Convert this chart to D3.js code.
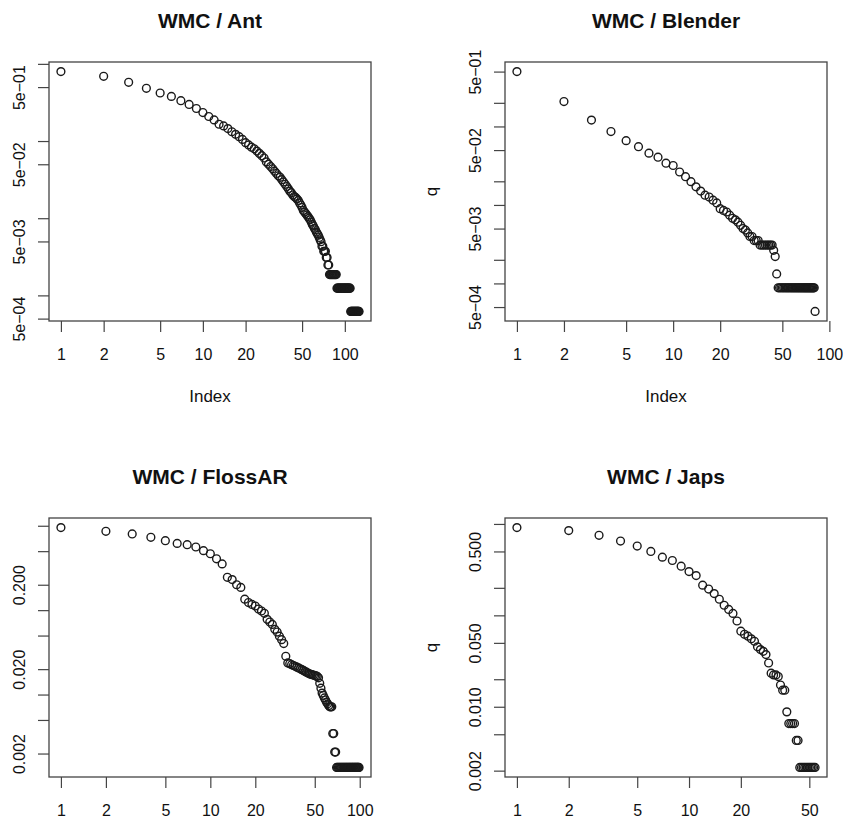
<!DOCTYPE html>
<html>
<head>
<meta charset="utf-8">
<script src="https://cdn.jsdelivr.net/npm/d3@7/dist/d3.min.js"></script>
<style>
  body { margin: 0; background: #fff; }
  svg text { font-family: "Liberation Sans", Arial, Helvetica, sans-serif; fill: #111; }
</style>
</head>
<body>
<div id="container"></div>
<script>
// q values by Index (1..N)
const antQ = [0.794, 0.690, 0.577, 0.482, 0.419, 0.379, 0.333, 0.298, 0.264, 0.234,
    0.208, 0.188, 0.165, 0.157, 0.145, 0.132, 0.122, 0.114, 0.105, 0.0953,
    0.0891, 0.0832, 0.0794, 0.0741, 0.0692, 0.0646, 0.0603, 0.0537, 0.0501, 0.0468,
    0.0437, 0.0407, 0.0380, 0.0355, 0.0339, 0.0316, 0.0295, 0.0275, 0.0257, 0.0240,
    0.0224, 0.0214, 0.0200, 0.0191, 0.0186, 0.0178, 0.0170, 0.0158, 0.0148, 0.0138,
    0.0126, 0.0120, 0.0115, 0.0110, 0.0105, 0.0100, 0.00955, 0.00891, 0.00832, 0.00794,
    0.00741, 0.00708, 0.00661, 0.00631, 0.00603, 0.00562, 0.00525, 0.00496, 0.00434, 0.00434,
    0.00372, 0.00372, 0.00372, 0.00310, 0.00310, 0.00248, 0.00248,
    0.00186, 0.00186, 0.00186, 0.00186, 0.00186, 0.00186, 0.00186, 0.00186, 0.00186, 0.00186,
    0.00124, 0.00124, 0.00124, 0.00124, 0.00124, 0.00124, 0.00124, 0.00124, 0.00124, 0.00124, 0.00124,
    0.00124, 0.00124, 0.00124, 0.00124, 0.00124, 0.00124, 0.00124, 0.00124, 0.00124, 0.00124, 0.00124,
    0.00062, 0.00062, 0.00062, 0.00062, 0.00062, 0.00062, 0.00062, 0.00062, 0.00062,
    0.00062, 0.00062, 0.00062, 0.00062, 0.00062, 0.00062, 0.00062, 0.00062]

const blenderQ = [0.500, 0.2075, 0.1205, 0.0861, 0.0659, 0.0552, 0.0457, 0.0406, 0.0340, 0.0318,
    0.0263, 0.0229, 0.0198, 0.0170, 0.0150, 0.0133, 0.0126, 0.0115, 0.0106, 0.00895,
    0.00851, 0.00813, 0.00741, 0.00676, 0.00646, 0.00603, 0.00550, 0.00501, 0.00479, 0.00440,
    0.00396, 0.00396, 0.00352, 0.00352, 0.00352,
    0.00308, 0.00308, 0.00308, 0.00308, 0.00308, 0.00308, 0.00308, 0.00308,
    0.00264, 0.00220, 0.00132,
    0.00088, 0.00088, 0.00088, 0.00088, 0.00088, 0.00088, 0.00088, 0.00088, 0.00088, 0.00088,
    0.00088, 0.00088, 0.00088, 0.00088, 0.00088, 0.00088, 0.00088, 0.00088, 0.00088, 0.00088,
    0.00088, 0.00088, 0.00088, 0.00088, 0.00088, 0.00088, 0.00088, 0.00088, 0.00088, 0.00088,
    0.00088, 0.00088, 0.00088, 0.00088,
    0.00044]

const flossarQ = [0.951, 0.859, 0.800, 0.730, 0.665, 0.618, 0.596, 0.560, 0.507, 0.466,
    0.406, 0.353, 0.245, 0.230, 0.200, 0.186, 0.135, 0.123, 0.117, 0.112,
    0.103, 0.0977, 0.0918, 0.0778, 0.0724, 0.0678, 0.0592, 0.0550, 0.0492, 0.0447,
    0.0402, 0.0284, 0.0237, 0.0232, 0.0226, 0.0221, 0.0216, 0.0211, 0.0207, 0.0202,
    0.0197, 0.0193, 0.0188, 0.0184, 0.0180, 0.0176, 0.0174, 0.0172, 0.0170, 0.0168,
    0.0166, 0.0164, 0.0158, 0.0136, 0.0119, 0.0104, 0.00977, 0.00912, 0.00861, 0.00813,
    0.00776, 0.00741, 0.00716, 0.00716, 0.00716, 0.00345, 0.00345, 0.00208, 0.00208,
    0.00137, 0.00137, 0.00137, 0.00137, 0.00137, 0.00137, 0.00137, 0.00137, 0.00137, 0.00137,
    0.00137, 0.00137, 0.00137, 0.00137, 0.00137, 0.00137, 0.00137, 0.00137, 0.00137, 0.00137,
    0.00137, 0.00137, 0.00137, 0.00137, 0.00137, 0.00137, 0.00137, 0.00137, 0.00137, 0.00137]

const japsQ = [0.912, 0.845, 0.751, 0.650, 0.573, 0.500, 0.433, 0.398, 0.345, 0.301,
    0.272, 0.214, 0.194, 0.173, 0.150, 0.129, 0.116, 0.105, 0.0867, 0.0671,
    0.0620, 0.0592, 0.0553, 0.0521, 0.0452, 0.0422, 0.0404, 0.0372, 0.0301, 0.0233,
    0.0223, 0.0223, 0.0214, 0.0173, 0.0152, 0.0152, 0.00879, 0.00655, 0.00655, 0.00655,
    0.00655, 0.00428, 0.00428,
    0.00217, 0.00217, 0.00217, 0.00217, 0.00217, 0.00217, 0.00217, 0.00217, 0.00217, 0.00217, 0.00217]

// axis ticks and labels
const xTicks = [1, 2, 5, 10, 20, 50, 100]
const xTicksJaps = [1, 2, 5, 10, 20, 50]

const antYTicks = [1, 0.5, 0.1, 0.05, 0.01, 0.005, 0.001, 0.0005]
const antYLabels = ["", "5e\u221201", "", "5e\u221202", "", "5e\u221203", "", "5e\u221204"]

const blenderYTicks = [0.5, 0.2, 0.1, 0.05, 0.02, 0.01, 0.005, 0.002, 0.001, 0.0005]
const blenderYLabels = ["5e\u221201", "", "", "5e\u221202", "", "", "5e\u221203", "", "", "5e\u221204"]

const flossarYTicks = [1, 0.5, 0.2, 0.1, 0.05, 0.02, 0.01, 0.005, 0.002]
const flossarYLabels = ["", "", "0.200", "", "", "0.020", "", "", "0.002"]

const japsYTicks = [1, 0.5, 0.2, 0.1, 0.05, 0.02, 0.01, 0.005, 0.002]
const japsYLabels = ["", "0.500", "", "", "0.050", "", "0.010", "", "0.002"]

const titles = ["WMC / Ant", "WMC / Blender", "WMC / FlossAR", "WMC / Japs"]

const boxW = 322, boxH = 259
const tickLen = 11

// R-style log range, padded 4% on each side
const logDomain = function(lo, hi) {
    const a = Math.log10(lo), b = Math.log10(hi)
    const pad = (b - a) * 0.04
    return [Math.pow(10, a - pad), Math.pow(10, b + pad)]
}

const drawPanel = (svg, left, top, q, title, xt, yt, yl, showIndex, showQ) => {
    const g = svg.append('g').attr('transform', 'translate(' + left + ',' + top + ')')
    const idx = q.map((d, i) => i + 1)

    const x = d3.scaleLog().domain(logDomain(1, q.length)).range([0, boxW])
    const y = d3.scaleLog().domain(logDomain(d3.min(q), d3.max(q))).range([boxH, 0])

    g.append('text')
        .attr('x', boxW / 2).attr('y', -34)
        .attr('text-anchor', 'middle')
        .style('font-size', '21px').style('font-weight', 'bold')
        .text(title)

    const xAxis = g.append('g').attr('transform', 'translate(0,' + boxH + ')')
        .call(d3.axisBottom(x).tickValues(xt).tickFormat(d3.format('d'))
            .tickSizeInner(tickLen).tickSizeOuter(0))
    xAxis.select('.domain').remove()
    xAxis.selectAll('line').attr('stroke', '#444').attr('stroke-width', 1.2)
    xAxis.selectAll('text').attr('y', 39).attr('dy', 0)
        .style('font-size', '16px').attr('fill', '#111')

    const yAxis = g.append('g')
        .call(d3.axisLeft(y).tickValues(yt).tickFormat((d, i) => yl[i])
            .tickSizeInner(tickLen).tickSizeOuter(0))
    yAxis.select('.domain').remove()
    yAxis.selectAll('line').attr('stroke', '#444').attr('stroke-width', 1.2)
    yAxis.selectAll('text')
        .attr('x', 0).attr('y', -24).attr('dy', 0)
        .attr('transform', 'rotate(-90)')
        .attr('text-anchor', 'middle')
        .style('font-size', '16px').attr('fill', '#111')

    g.append('rect')
        .attr('width', boxW).attr('height', boxH)
        .attr('fill', 'none').attr('stroke', '#444').attr('stroke-width', 1.3)

    g.selectAll('.dot')
        .data(idx)
        .enter().append('circle')
        .attr('class', 'dot')
        .attr('cx', d => x(d))
        .attr('cy', d => y(q[d - 1]))
        .attr('r', 3.9)
        .attr('fill', 'none')
        .attr('stroke', '#1a1a1a')
        .attr('stroke-width', 1.4)

    if (showIndex)
        g.append('text')
            .attr('x', boxW / 2).attr('y', boxH + 81)
            .attr('text-anchor', 'middle')
            .style('font-size', '17px')
            .text('Index')
    if (showQ)
        g.append('text')
            .attr('transform', 'translate(-68,' + boxH / 2 + ') rotate(-90)')
            .attr('text-anchor', 'middle')
            .style('font-size', '17px')
            .text('q')
}

const svg = d3.select('#container')
    .append('svg').attr('width', 843).attr('height', 818)

drawPanel(svg, 49, 62, antQ, titles[0], xTicks, antYTicks, antYLabels, true, false)
drawPanel(svg, 505, 62, blenderQ, titles[1], xTicks, blenderYTicks, blenderYLabels, true, true)
drawPanel(svg, 49, 518, flossarQ, titles[2], xTicks, flossarYTicks, flossarYLabels, false, false)
drawPanel(svg, 505, 518, japsQ, titles[3], xTicksJaps, japsYTicks, japsYLabels, false, true)
</script>
</body>
</html>
